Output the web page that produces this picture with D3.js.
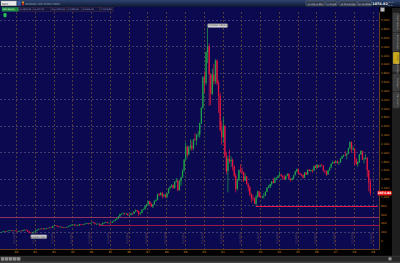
<!DOCTYPE html>
<html><head><meta charset="utf-8">
<script src="https://cdn.jsdelivr.net/npm/d3@7"></script>
<style>
body{margin:0;background:#000;overflow:hidden}
svg{display:block}
text{font-family:"DejaVu Sans",sans-serif}
</style>
</head><body><div id="root"></div>
<script>
// monthly NDX candles, Feb 1989 .. Nov 2008
var firstMonth = new Date(1989, 1, 1);
var opens = [
  190,188,193,205,216,207,220,228,230,224,226,
  224,208,213,222,217,241,246,233,205,180,172,188,
  200,226,246,265,263,273,256,273,286,285,296,287,
  331,343,340,320,306,313,296,307,297,310,325,349,
  360,363,345,356,342,370,363,360,378,387,395,380,
  398,410,403,378,380,383,358,370,404,404,420,402,
  404,402,431,449,479,500,548,598,605,616,610,610,
  576,580,614,610,660,690,665,600,625,700,710,780,
  821,890,830,770,820,900,920,1050,1030,1080,1010,1040,
  991,1070,1180,1220,1260,1190,1340,1360,1140,1345,1430,1590,
  1836,2130,1950,2106,2150,2090,2296,2280,2400,2410,2660,3010,
  3708,3570,4270,4397,3774,3324,3763,3609,4078,3571,3283,2507,
  2342,2593,1908,1573,1855,1800,1830,1683,1470,1169,1365,1597,
  1577,1550,1359,1453,1278,1209,1051,963,942,832,990,1116,
  984,982,1004,1018,1106,1201,1201,1281,1341,1304,1416,1424,
  1468,1494,1466,1438,1387,1467,1516,1401,1370,1412,1483,1567,
  1621,1520,1500,1483,1424,1542,1494,1605,1580,1601,1581,1693,
  1645,1710,1672,1703,1700,1586,1575,1498,1592,1654,1742,1780,
  1757,1791,1759,1772,1860,1913,1934,1933,1973,2091,2238,2061,
  2085,1841,1731,1781,1950,2031,1838,1855,1877,1594,1322
];
var highs = [
  195,197,207,218,219,222,232,233,235,229,230,
  226,216,225,226,243,250,252,234,208,184,190,203,
  228,250,268,275,276,276,276,288,290,300,302,332,
  355,352,344,322,318,315,310,309,313,327,350,363,
  372,368,360,358,372,375,368,380,392,400,398,400,
  415,418,408,385,388,386,372,406,414,425,426,410,
  410,433,452,482,505,552,605,615,635,625,630,620,
  590,635,620,665,705,695,670,635,705,725,785,830,
  905,900,860,825,910,935,1060,1080,1095,1105,1050,1060,
  1080,1185,1235,1280,1270,1345,1420,1370,1380,1450,1610,1840,
  2230,2150,2150,2300,2260,2300,2440,2410,2480,2670,3020,3720,
  3840,4290,4816,4460,3790,3890,4000,4110,4100,3630,3350,2700,
  2800,2620,2010,1920,2060,1910,1860,1700,1520,1400,1610,1730,
  1660,1560,1530,1460,1310,1240,1080,1040,980,1040,1130,1120,
  1060,1010,1080,1110,1210,1260,1290,1345,1420,1430,1440,1480,
  1570,1520,1475,1490,1470,1520,1518,1410,1430,1490,1580,1630,
  1625,1540,1520,1500,1550,1560,1610,1620,1610,1610,1700,1710,
  1735,1720,1720,1745,1710,1600,1580,1600,1660,1750,1810,1800,
  1815,1820,1790,1870,1920,1950,2030,1990,2095,2239,2240,2140,
  2090,1870,1800,1960,2050,2040,1890,1960,1890,1600,1400
];
var lows = [
  184,185,192,203,203,205,218,224,212,220,218,
  203,204,211,214,215,238,228,196,178,160,170,186,
  190,224,243,258,258,252,254,265,280,280,280,283,
  328,335,315,296,303,290,293,294,295,303,323,345,
  355,330,340,332,340,355,350,358,372,380,365,378,
  395,398,365,360,368,352,352,368,398,400,392,392,
  392,400,428,446,472,498,545,580,598,585,595,560,
  540,575,585,600,655,640,550,590,620,690,705,760,
  815,815,765,735,815,885,915,1010,1025,960,980,960,
  960,1065,1160,1205,1170,1175,1320,1120,1130,1240,1425,1560,
  1820,1880,1930,2060,2030,2050,2260,2160,2350,2330,2640,2990,
  3340,3520,4020,3050,3070,3300,3530,3550,3520,2890,2470,2170,
  2210,1880,1500,1090,1760,1670,1590,1430,1090,1140,1350,1540,
  1500,1330,1350,1270,1120,1010,860,900,830,795,970,980,
  970,960,950,1010,1100,1190,1190,1240,1300,1300,1370,1410,
  1460,1440,1380,1385,1370,1460,1390,1340,1365,1390,1480,1550,
  1500,1480,1460,1406,1420,1490,1490,1570,1560,1530,1580,1640,
  1640,1650,1660,1690,1560,1520,1460,1490,1580,1650,1740,1740,
  1755,1740,1710,1765,1855,1890,1920,1840,1960,2070,1990,2040,
  1700,1720,1670,1760,1940,1830,1750,1840,1440,1120,1018
];
var closes = [
  188,193,205,216,207,220,228,230,224,226,224,
  208,213,222,217,241,246,233,205,180,172,188,200,
  226,246,265,263,273,256,273,286,285,296,287,331,
  343,340,320,306,313,296,307,297,310,325,349,360,
  363,345,356,342,370,363,360,378,387,395,380,398,
  410,403,378,380,383,358,370,404,404,420,402,404,
  402,431,449,479,500,548,598,605,616,610,610,576,
  580,614,610,660,690,665,600,625,700,710,780,821,
  890,830,770,820,900,920,1050,1030,1080,1010,1040,991,
  1070,1180,1220,1260,1190,1340,1360,1140,1345,1430,1590,1836,
  2130,1950,2106,2150,2090,2296,2280,2400,2410,2660,3010,3708,
  3570,4270,4397,3774,3324,3763,3609,4078,3571,3283,2507,2342,
  2593,1908,1573,1855,1800,1830,1683,1470,1169,1365,1597,1577,
  1550,1359,1453,1278,1209,1051,963,942,832,990,1116,984,
  982,1004,1018,1106,1201,1201,1281,1341,1304,1416,1424,1468,
  1494,1466,1438,1387,1467,1516,1401,1370,1412,1483,1567,1621,
  1520,1500,1483,1424,1542,1494,1605,1580,1601,1581,1693,1645,
  1710,1672,1703,1700,1586,1575,1498,1592,1654,1742,1780,1757,
  1791,1759,1772,1860,1913,1934,1933,1973,2091,2238,2061,2085,
  1841,1731,1781,1950,2031,1838,1855,1877,1594,1322,1075
];

var years = [1990,1991,1992,1993,1994,1995,1996,1997,1998,1999,2000,
             2001,2002,2003,2004,2005,2006,2007,2008,2009];
var priceTicks = [0,200,400,600,800,1000,1200,1400,1600,1800,2000,2200,2400,
                  2600,2800,3000,3200,3400,3600,3800,4000,4200,4400,4600,4800,5000];
var gridPrices = [200,800,1400,2000,2600,3200,3800,4400,5000];
var lastPrice = 1074.82;
var lowLevel = 795;      // 2002 low line
var lowLevel2 = 535;
var lowLevel3 = 353;
var tabs = ['Chart Options','Active Trader','Lines','Annotations','Overlays','Bar Colors'];

var W = 400, H = 263;
var plot = {l: 0, r: 379, t: 12, b: 249};

var svg = d3.select('#root')
  .append('svg')
    .attr('width', W)
    .attr('height', H);

var defs = svg.append('defs');
var g1 = defs.append('linearGradient').attr('id', 'topbar')
  .attr('x1', 0).attr('y1', 0).attr('x2', 0).attr('y2', 1);
g1.append('stop').attr('offset', 0).attr('stop-color', '#2e4470');
g1.append('stop').attr('offset', 1).attr('stop-color', '#0c1730');
defs.append('clipPath').attr('id', 'clip')
  .append('rect')
    .attr('x', plot.l).attr('y', plot.t)
    .attr('width', plot.r - plot.l).attr('height', plot.b - plot.t);

svg.append('rect').attr('width', W).attr('height', H).attr('fill', '#000');

// plot background (incl. header strip)
svg.append('rect')
  .attr('x', 0).attr('y', 7)
  .attr('width', plot.r).attr('height', plot.b - 7)
  .attr('fill', '#0b0a50');

var x = d3.scaleTime()
  .domain([new Date(1990, 0, 1), new Date(2009, 0, 1)])
  .range([16, 372.7]);

var y = d3.scaleLinear()
  .domain([-190, 5178])
  .range([plot.b, plot.t]);

var yearDates = years.map(d => new Date(d, 0, 1));

// grid
svg.append('g')
  .selectAll('line')
  .data(gridPrices)
  .enter()
  .append('line')
    .attr('x1', plot.l).attr('x2', plot.r)
    .attr('y1', d => Math.round(y(d)) + 0.5)
    .attr('y2', d => Math.round(y(d)) + 0.5)
    .attr('stroke', '#4a4878')
    .attr('stroke-width', 0.8)
    .attr('stroke-dasharray', '2,2');

svg.append('g')
  .selectAll('line')
  .data(yearDates)
  .enter()
  .append('line')
    .attr('x1', d => Math.round(x(d)) + 0.5)
    .attr('x2', d => Math.round(x(d)) + 0.5)
    .attr('y1', plot.t).attr('y2', plot.b)
    .attr('stroke', '#6a4636')
    .attr('stroke-width', 0.8)
    .attr('stroke-dasharray', '2,2');

// rotated date labels inside plot bottom
svg.append('g')
  .selectAll('text')
  .data(yearDates)
  .enter()
  .append('text')
    .attr('transform', d => 'translate(' + (x(d) - 0.6) + ',238) rotate(-90)')
    .attr('text-anchor', 'middle')
    .attr('font-size', 2.6)
    .attr('fill', '#6e5064')
    .text(d => '01/' + d3.timeFormat('%Y')(d));

// level lines
var levels = svg.append('g');
levels.append('line')
  .attr('x1', x(new Date(2002, 9, 9))).attr('x2', 377.5)
  .attr('y1', Math.round(y(lowLevel)) + 0.5).attr('y2', Math.round(y(lowLevel)) + 0.5)
  .attr('stroke', '#e0184a').attr('stroke-width', 1);
levels.append('line')
  .attr('x1', plot.l).attr('x2', plot.r)
  .attr('y1', Math.round(y(lowLevel2)) + 0.5).attr('y2', Math.round(y(lowLevel2)) + 0.5)
  .attr('stroke', '#b83a6a').attr('stroke-width', 0.8);
levels.append('line')
  .attr('x1', x(new Date(1994, 5, 1))).attr('x2', plot.r)
  .attr('y1', Math.round(y(lowLevel3)) + 0.5).attr('y2', Math.round(y(lowLevel3)) + 0.5)
  .attr('stroke', '#c01848').attr('stroke-width', 0.8);

// candles
var candles = closes.map((c, i) => ({
  date: d3.timeDay.offset(d3.timeMonth.offset(firstMonth, i), 15),
  o: opens[i], h: highs[i], l: lows[i], c: c
}));

var cg = svg.append('g').attr('clip-path', 'url(#clip)');
var up = '#1ea04a', down = '#e3163e';

cg.selectAll('rect.wick')
  .data(candles)
  .enter()
  .append('rect')
    .attr('class', 'wick')
    .attr('x', d => x(d.date) - 0.35)
    .attr('width', 0.7)
    .attr('y', d => y(d.h))
    .attr('height', d => Math.max(0.5, y(d.l) - y(d.h)))
    .attr('fill', d => d.c >= d.o ? up : down);

cg.selectAll('rect.body')
  .data(candles)
  .enter()
  .append('rect')
    .attr('class', 'body')
    .attr('x', d => x(d.date) - 0.65)
    .attr('width', 1.3)
    .attr('y', d => y(Math.max(d.o, d.c)))
    .attr('height', d => Math.max(0.6, Math.abs(y(d.o) - y(d.c))))
    .attr('fill', d => d.c >= d.o ? up : down);

// peak / low annotations
var peak = candles.reduce((a, b) => b.h > a.h ? b : a);
var trough = candles.slice(0, 30).reduce((a, b) => b.l < a.l ? b : a);
var ann = svg.append('g');
ann.append('rect')
  .attr('x', x(peak.date)).attr('y', y(peak.h) - 4.2)
  .attr('width', 20).attr('height', 3.6).attr('rx', 0.6)
  .attr('fill', '#d6d6d6').attr('stroke', '#8a8a8a').attr('stroke-width', 0.3);
ann.append('text')
  .attr('x', x(peak.date) + 10).attr('y', y(peak.h) - 1.5)
  .attr('text-anchor', 'middle').attr('font-size', 2.4).attr('fill', '#303030')
  .text('3/24/2000 4816.35');
ann.append('rect')
  .attr('x', x(trough.date)).attr('y', y(trough.l) + 1.3)
  .attr('width', 16).attr('height', 3.6).attr('rx', 0.6)
  .attr('fill', '#d0d0d0').attr('stroke', '#8a8a8a').attr('stroke-width', 0.3);
ann.append('text')
  .attr('x', x(trough.date) + 8).attr('y', y(trough.l) + 4)
  .attr('text-anchor', 'middle').attr('font-size', 2.4).attr('fill', '#303030')
  .text('10/16/90 160.07');

// legend pill
svg.append('rect')
  .attr('x', 3.5).attr('y', 13).attr('width', 3).attr('height', 4.2).attr('rx', 1.2)
  .attr('fill', '#2cc356');

// plot border
svg.append('path')
  .attr('d', 'M' + (plot.r + 0.5) + ',' + plot.t + 'V' + (plot.b + 0.5) + 'H0')
  .attr('fill', 'none').attr('stroke', '#7a4c2a').attr('stroke-width', 0.8);

// right axis
var yAxis = svg.append('g')
  .attr('transform', 'translate(' + (plot.r + 1) + ',0)')
  .call(d3.axisRight(y).tickValues(priceTicks).tickSize(0).tickPadding(1));
yAxis.select('.domain').remove();
yAxis.selectAll('text')
  .attr('font-size', 2.9)
  .attr('font-family', 'DejaVu Sans')
  .attr('fill', '#c8862a');

// last price tag
svg.append('rect')
  .attr('x', 377.5).attr('y', y(lastPrice) - 2.4)
  .attr('width', 14).attr('height', 4.8).attr('rx', 0.8)
  .attr('fill', '#ee1c1c');
svg.append('text')
  .attr('x', 384.5).attr('y', y(lastPrice) + 1.1)
  .attr('text-anchor', 'middle').attr('font-size', 3).attr('font-weight', 'bold')
  .attr('fill', '#fff')
  .text(lastPrice.toFixed(2));

// bottom axis
var xAxis = svg.append('g')
  .attr('transform', 'translate(0,' + plot.b + ')')
  .call(d3.axisBottom(x).tickValues(yearDates).tickSize(0).tickPadding(2)
    .tickFormat(d3.timeFormat('%y')));
xAxis.select('.domain').remove();
xAxis.selectAll('text')
  .attr('font-size', 3)
  .attr('font-family', 'DejaVu Sans')
  .attr('fill', '#c8862a');

// right tab strip
svg.append('rect').attr('x', 392).attr('y', 8).attr('width', 8).attr('height', 248)
  .attr('fill', '#1e1e1e');
var tabY = [13, 33, 52, 65, 74, 92];
var tabH = [19, 18, 12, 7, 17, 16];
var tg = svg.append('g');
tabs.forEach((t, i) => {
  tg.append('rect')
    .attr('x', 393).attr('y', tabY[i]).attr('width', 6.5).attr('height', tabH[i]).attr('rx', 0.8)
    .attr('fill', t === 'Lines' ? '#c8a818' : '#3c3c3c')
    .attr('stroke', '#5a5a5a').attr('stroke-width', 0.3);
  tg.append('text')
    .attr('transform', 'translate(397.3,' + (tabY[i] + tabH[i] / 2) + ') rotate(90)')
    .attr('text-anchor', 'middle').attr('font-size', t === 'Lines' ? 2 : 2.2)
    .attr('fill', t === 'Lines' ? '#222' : '#b8b8b8')
    .text(t);
});

// top bar
svg.append('rect').attr('width', W).attr('height', 7).attr('fill', 'url(#topbar)');
svg.append('rect').attr('x', 1).attr('y', 1).attr('width', 15.5).attr('height', 4.8)
  .attr('fill', '#e8e8e8').attr('stroke', '#888').attr('stroke-width', 0.3);
svg.append('text').attr('x', 2).attr('y', 4.6).attr('font-size', 2.8).attr('fill', '#333')
  .text('NDX');
svg.append('rect').attr('x', 17.5).attr('y', 1).attr('width', 3.2).attr('height', 4.8)
  .attr('fill', '#3a5aa8');
svg.append('rect').attr('x', 22).attr('y', 1.6).attr('width', 2).attr('height', 1.8).attr('fill', '#e0a020');
svg.append('rect').attr('x', 22).attr('y', 3.4).attr('width', 2).attr('height', 1.8).attr('fill', '#d02020');
svg.append('text').attr('x', 25).attr('y', 4.6).attr('font-size', 2.7).attr('fill', '#9aa4b8')
  .text('NASDAQ 100 STOCK INDX');

var buttons = [
  {x: 306, w: 19, t: '\u2611 Log \u2611 Bar'},
  {x: 326, w: 11, t: '\u2610 Style'},
  {x: 339, w: 18, t: '\u2611 Drawings'},
  {x: 358, w: 13.5, t: '\u2611 Studies'}
];
var bg = svg.append('g');
buttons.forEach(b => {
  bg.append('rect').attr('x', b.x).attr('y', 1).attr('width', b.w).attr('height', 4.8).attr('rx', 0.6)
    .attr('fill', '#2c3448').attr('stroke', '#8a90a0').attr('stroke-width', 0.35);
  bg.append('text').attr('x', b.x + b.w / 2).attr('y', 4.5).attr('text-anchor', 'middle')
    .attr('font-size', 2.5).attr('fill', '#d0d4dc').text(b.t);
});
svg.append('text').attr('x', 372.3).attr('y', 5).attr('font-size', 3.4).attr('font-weight', 'bold')
  .attr('fill', '#f0f0f0').text('1074.82');
svg.append('text').attr('x', 387.5).attr('y', 2.6).attr('font-size', 1.8).attr('fill', '#c8c8c8').text('-60.76');
svg.append('text').attr('x', 387.5).attr('y', 6.3).attr('font-size', 1.8).attr('fill', '#c8c8c8').text('16:15');

// header stat cells
var cells = [
  {x: 2, w: 16.5, t: 'NDX Equity', green: true},
  {x: 19, w: 14, t: 'Hi 4816.35'},
  {x: 33, w: 18, t: 'Lo 157.21'},
  {x: 51, w: 16, t: 'Avg 1276.04'},
  {x: 67, w: 15, t: 'O 1322.46'},
  {x: 82, w: 18, t: 'H 1400.03'},
  {x: 100, w: 13, t: 'C 1074.82'}
];
var hg = svg.append('g');
cells.forEach(c => {
  hg.append('rect').attr('x', c.x).attr('y', 7.6).attr('width', c.w).attr('height', 3.6)
    .attr('fill', c.green ? '#1c8a3a' : '#141442')
    .attr('stroke', c.green ? '#3cc060' : '#6a4a3a').attr('stroke-width', 0.3);
  hg.append('text').attr('x', c.x + 0.8).attr('y', 10.3).attr('font-size', 2.1)
    .attr('fill', c.green ? '#e8ffe8' : '#b0b0c8').text(c.t);
});
svg.append('rect').attr('x', 380.5).attr('y', 7.6).attr('width', 4).attr('height', 4)
  .attr('fill', '#b8b8b8').attr('stroke', '#666').attr('stroke-width', 0.3);

// bottom toolbar
svg.append('rect').attr('x', 0).attr('y', 256).attr('width', W).attr('height', 7).attr('fill', '#262626');
svg.append('line').attr('x1', 0).attr('x2', W).attr('y1', 256.2).attr('y2', 256.2)
  .attr('stroke', '#555').attr('stroke-width', 0.4);
[1, 5, 9, 13, 17].forEach(px => {
  svg.append('rect').attr('x', px).attr('y', 257.3).attr('width', 3.2).attr('height', 3.2)
    .attr('fill', '#8a8a8a').attr('stroke', '#bbb').attr('stroke-width', 0.2);
});
svg.append('rect').attr('x', 388.5).attr('y', 257.3).attr('width', 3).attr('height', 3)
  .attr('fill', '#9a9a9a');
svg.append('rect').attr('x', 0).attr('y', 261.5).attr('width', W).attr('height', 1.5).attr('fill', '#444');
</script>
</body></html>
